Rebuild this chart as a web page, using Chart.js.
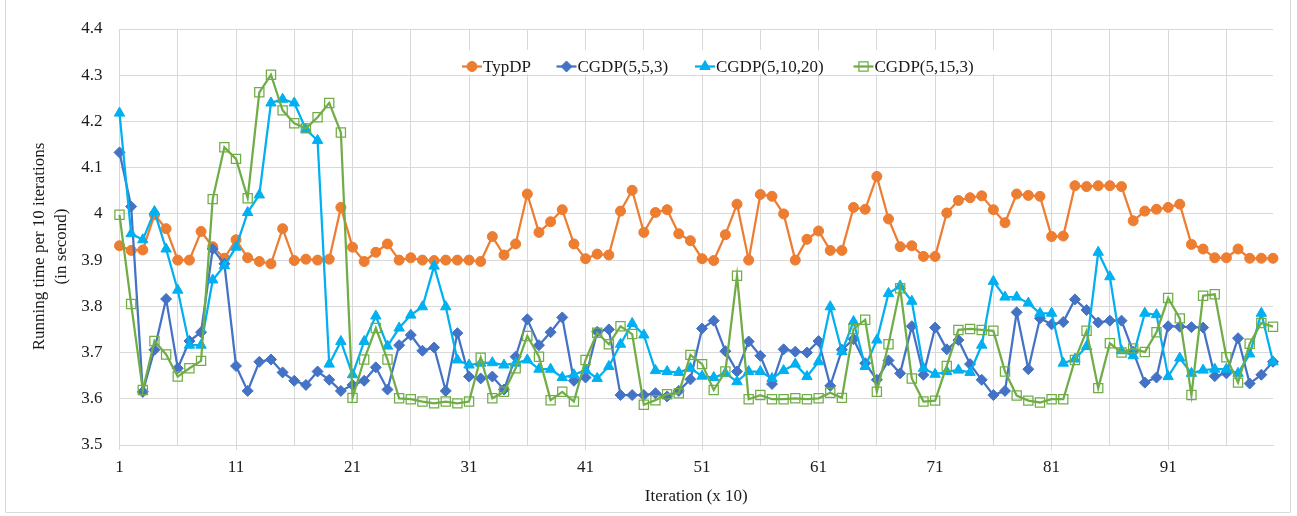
<!DOCTYPE html>
<html>
<head>
<meta charset="utf-8">
<title>Running time per 10 iterations</title>
<script src="https://cdn.jsdelivr.net/npm/chart.js@4.4.1/dist/chart.umd.min.js"></script>
<style>
  html, body { margin: 0; padding: 0; background: #ffffff; }
  #wrap { position: relative; width: 1297px; height: 516px; }
  canvas { display: block; }
</style>
</head>
<body>
<div id="wrap"><canvas id="chart" width="1297" height="516"></canvas></div>
<script>
// Iteration index (x 10)
const iterations = [
  1, 2, 3, 4, 5, 6, 7, 8, 9, 10, 11, 12, 13, 14, 15, 16, 17, 18, 19, 20,
  21, 22, 23, 24, 25, 26, 27, 28, 29, 30, 31, 32, 33, 34, 35, 36, 37, 38, 39, 40,
  41, 42, 43, 44, 45, 46, 47, 48, 49, 50, 51, 52, 53, 54, 55, 56, 57, 58, 59, 60,
  61, 62, 63, 64, 65, 66, 67, 68, 69, 70, 71, 72, 73, 74, 75, 76, 77, 78, 79, 80,
  81, 82, 83, 84, 85, 86, 87, 88, 89, 90, 91, 92, 93, 94, 95, 96, 97, 98, 99, 100
];

// Labelled iterations on the x axis
const xTickLabels = ['1', '11', '21', '31', '41', '51', '61', '71', '81', '91'];

// Value axis labels, bottom to top
const yTickLabels = ['3.5', '3.6', '3.7', '3.8', '3.9', '4', '4.1', '4.2', '4.3', '4.4'];

// Running time per 10 iterations (seconds)
const typDP = [
  3.931, 3.921, 3.922, 3.998, 3.968, 3.900, 3.900, 3.962, 3.929, 3.904,
  3.944, 3.905, 3.897, 3.892, 3.968, 3.899, 3.902, 3.900, 3.902, 4.014,
  3.928, 3.897, 3.917, 3.935, 3.900, 3.905, 3.900, 3.899, 3.900, 3.900,
  3.900, 3.897, 3.951, 3.911, 3.935, 4.043, 3.960, 3.983, 4.009, 3.935,
  3.903, 3.913, 3.911, 4.006, 4.051, 3.960, 4.003, 4.009, 3.957, 3.942,
  3.903, 3.899, 3.955, 4.021, 3.900, 4.042, 4.038, 4.000, 3.900, 3.945,
  3.963, 3.921, 3.921, 4.014, 4.010, 4.081, 3.989, 3.929, 3.931, 3.908,
  3.908, 4.002, 4.029, 4.035, 4.039, 4.009, 3.981, 4.043, 4.040, 4.038,
  3.951, 3.952, 4.061, 4.059, 4.061, 4.061, 4.059, 3.985, 4.006, 4.010,
  4.014, 4.021, 3.934, 3.924, 3.905, 3.905, 3.924, 3.904, 3.904, 3.904
];

const cgdp_5_5_3 = [
  4.133, 4.016, 3.615, 3.706, 3.816, 3.666, 3.725, 3.744, 3.924, 3.892,
  3.671, 3.617, 3.680, 3.685, 3.657, 3.639, 3.630, 3.659, 3.641, 3.617,
  3.630, 3.639, 3.668, 3.620, 3.716, 3.738, 3.704, 3.711, 3.617, 3.742,
  3.648, 3.644, 3.648, 3.620, 3.691, 3.772, 3.716, 3.744, 3.776, 3.639,
  3.646, 3.745, 3.750, 3.608, 3.608, 3.608, 3.612, 3.605, 3.617, 3.642,
  3.752, 3.769, 3.703, 3.659, 3.724, 3.693, 3.632, 3.707, 3.702, 3.700,
  3.725, 3.628, 3.706, 3.729, 3.677, 3.641, 3.683, 3.655, 3.757, 3.652,
  3.754, 3.707, 3.727, 3.675, 3.641, 3.608, 3.617, 3.787, 3.664, 3.774,
  3.761, 3.766, 3.815, 3.792, 3.765, 3.769, 3.769, 3.702, 3.635, 3.646,
  3.757, 3.756, 3.755, 3.754, 3.649, 3.655, 3.731, 3.633, 3.652, 3.680
];

const cgdp_5_10_20 = [
  4.218, 3.957, 3.944, 4.005, 3.924, 3.835, 3.716, 3.716, 3.857, 3.888,
  3.928, 4.003, 4.041, 4.240, 4.248, 4.240, 4.183, 4.159, 3.675, 3.724,
  3.652, 3.724, 3.779, 3.714, 3.753, 3.781, 3.799, 3.887, 3.799, 3.684,
  3.673, 3.677, 3.678, 3.673, 3.677, 3.684, 3.664, 3.664, 3.646, 3.652,
  3.662, 3.644, 3.670, 3.718, 3.763, 3.738, 3.661, 3.659, 3.657, 3.666,
  3.649, 3.646, 3.655, 3.637, 3.659, 3.659, 3.644, 3.661, 3.675, 3.648,
  3.680, 3.799, 3.702, 3.767, 3.670, 3.727, 3.828, 3.844, 3.811, 3.666,
  3.653, 3.659, 3.662, 3.657, 3.716, 3.854, 3.820, 3.820, 3.807, 3.785,
  3.785, 3.677, 3.686, 3.713, 3.917, 3.864, 3.704, 3.693, 3.785, 3.782,
  3.648, 3.688, 3.655, 3.662, 3.664, 3.664, 3.655, 3.697, 3.785, 3.680
];

const cgdp_5_15_3 = [
  3.998, 3.805, 3.619, 3.725, 3.696, 3.648, 3.666, 3.682, 4.032, 4.144,
  4.119, 4.034, 4.263, 4.301, 4.224, 4.196, 4.185, 4.209, 4.240, 4.176,
  3.602, 3.685, 3.753, 3.685, 3.601, 3.599, 3.594, 3.590, 3.594, 3.590,
  3.594, 3.689, 3.601, 3.615, 3.666, 3.736, 3.691, 3.597, 3.615, 3.594,
  3.684, 3.743, 3.718, 3.757, 3.740, 3.587, 3.597, 3.610, 3.612, 3.695,
  3.675, 3.619, 3.659, 3.866, 3.599, 3.608, 3.599, 3.599, 3.601, 3.599,
  3.601, 3.613, 3.602, 3.751, 3.771, 3.615, 3.718, 3.839, 3.644, 3.594,
  3.596, 3.671, 3.749, 3.751, 3.749, 3.747, 3.659, 3.607, 3.596, 3.592,
  3.599, 3.599, 3.684, 3.747, 3.623, 3.720, 3.700, 3.709, 3.701, 3.744,
  3.818, 3.774, 3.608, 3.823, 3.826, 3.690, 3.635, 3.719, 3.764, 3.756
];

const FONT_FAMILY = '"Liberation Serif", "Times New Roman", Times, serif';
const TEXT_COLOR = '#1a1a1a';
const GRID_COLOR = '#d9d9d9';

const seriesStyles = [
  { label: 'TypDP',          data: typDP,        color: '#ED7D31', pointStyle: 'circle',   radius: 5,   fill: '#ED7D31', order: 4 },
  { label: 'CGDP(5,5,3)',    data: cgdp_5_5_3,   color: '#4472C4', pointStyle: 'rectRot',  radius: 5.5, fill: '#4472C4', order: 3 },
  { label: 'CGDP(5,10,20)',  data: cgdp_5_10_20, color: '#00B0F0', pointStyle: 'triangle', radius: 6,   fill: '#00B0F0', order: 2 },
  { label: 'CGDP(5,15,3)',   data: cgdp_5_15_3,  color: '#70AD47', pointStyle: 'rect',     radius: 6.5, fill: 'rgba(0,0,0,0)', order: 1 }
];

const datasets = seriesStyles.map(s => ({
  label: s.label,
  data: s.data,
  order: s.order,
  borderColor: s.color,
  backgroundColor: s.fill,
  borderWidth: 2.25,
  pointStyle: s.pointStyle,
  pointRadius: s.radius,
  pointHoverRadius: s.radius,
  pointBackgroundColor: s.fill,
  pointBorderColor: s.color,
  pointBorderWidth: s.pointStyle === 'rect' ? 1.25 : 1,
  tension: 0,
  clip: false
}));

// White page with a thin frame around the chart
const frame = {
  id: 'frame',
  beforeDraw(chart) {
    const ctx = chart.ctx;
    ctx.save();
    ctx.fillStyle = '#ffffff';
    ctx.fillRect(0, 0, chart.width, chart.height);
    ctx.strokeStyle = GRID_COLOR;
    ctx.lineWidth = 1;
    ctx.beginPath();
    ctx.moveTo(5.5, 0);
    ctx.lineTo(5.5, 512.5);
    ctx.lineTo(1290.5, 512.5);
    ctx.lineTo(1290.5, 0);
    ctx.stroke();
    ctx.restore();
  }
};

// Two-line vertical axis title
const yTitle = {
  id: 'yTitle',
  afterDraw(chart) {
    const ctx = chart.ctx;
    const lines = ['Running time per 10 iterations', '(in second)'];
    ctx.save();
    ctx.font = '17px ' + FONT_FAMILY;
    ctx.fillStyle = TEXT_COLOR;
    ctx.textAlign = 'center';
    ctx.textBaseline = 'middle';
    ctx.translate(39.5, 246.5);
    ctx.rotate(-Math.PI / 2);
    lines.forEach((t, i) => ctx.fillText(t, 0, i * 22.5));
    ctx.restore();
  }
};

// Legend row inside the plot: line segment with marker, then the series name
const lineLegend = {
  id: 'lineLegend',
  afterDatasetsDraw(chart) {
    const ctx = chart.ctx;
    const y = 66.5;
    const starts = [462, 556.5, 695, 853.5];
    ctx.save();
    ctx.fillStyle = '#ffffff';
    ctx.fillRect(450, 50, 545, 24);
    ctx.font = '17px ' + FONT_FAMILY;
    ctx.textAlign = 'left';
    ctx.textBaseline = 'middle';
    chart.data.datasets.forEach((ds, i) => {
      const x0 = starts[i];
      ctx.strokeStyle = ds.borderColor;
      ctx.lineWidth = ds.borderWidth;
      ctx.beginPath();
      ctx.moveTo(x0, y);
      ctx.lineTo(x0 + 20, y);
      ctx.stroke();
      ctx.fillStyle = ds.pointBackgroundColor;
      ctx.strokeStyle = ds.pointBorderColor;
      ctx.lineWidth = ds.pointBorderWidth;
      Chart.helpers.drawPoint(ctx, {
        pointStyle: ds.pointStyle,
        radius: ds.pointRadius,
        borderWidth: ds.pointBorderWidth,
        rotation: 0
      }, x0 + 10, y);
      ctx.fillStyle = TEXT_COLOR;
      ctx.fillText(ds.label, x0 + 21, y + 1);
    });
    ctx.restore();
  }
};

Chart.defaults.font.family = FONT_FAMILY;
Chart.defaults.font.size = 17;
Chart.defaults.color = TEXT_COLOR;

new Chart(document.getElementById('chart'), {
  type: 'line',
  data: { labels: iterations, datasets },
  options: {
    responsive: false,
    animation: false,
    devicePixelRatio: 1,
    events: [],
    layout: { padding: { top: 29, right: 24, left: 0, bottom: 0 } },
    plugins: {
      legend: { display: false },
      tooltip: { enabled: false }
    },
    scales: {
      x: {
        type: 'category',
        offset: false,
        afterFit(scale) { scale.height = 71; },
        border: { display: true, color: GRID_COLOR, width: 1 },
        grid: {
          color: ctx => (ctx.index % 5 === 0 ? GRID_COLOR : 'rgba(0,0,0,0)'),
          tickColor: ctx => (ctx.index % 10 === 0 ? GRID_COLOR : 'rgba(0,0,0,0)'),
          tickLength: 5,
          lineWidth: 1
        },
        ticks: {
          autoSkip: false,
          maxRotation: 0,
          minRotation: 0,
          padding: 7,
          color: TEXT_COLOR,
          callback: (value, index) => {
            const t = String(iterations[index]);
            return xTickLabels.includes(t) ? t : '';
          }
        },
        title: {
          display: true,
          text: 'Iteration (x 10)',
          color: TEXT_COLOR,
          font: { size: 17 },
          padding: { top: 0, bottom: 9 }
        }
      },
      y: {
        min: 3.5,
        max: 4.4,
        afterFit(scale) { scale.width = 119.5; },
        border: { display: false },
        grid: { color: GRID_COLOR, lineWidth: 1, drawTicks: false },
        ticks: {
          stepSize: 0.1,
          padding: 17,
          color: TEXT_COLOR,
          callback: (value, index) => yTickLabels[index]
        }
      }
    }
  },
  plugins: [frame, yTitle, lineLegend]
});
</script>
</body>
</html>
